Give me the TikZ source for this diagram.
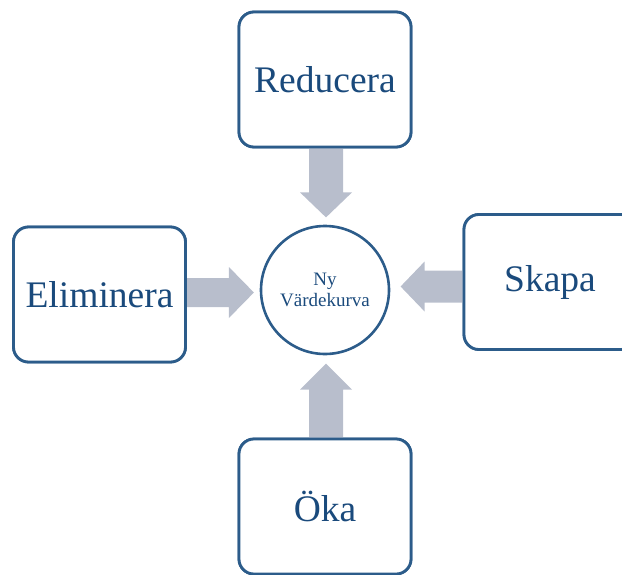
\documentclass[tikz,border=0pt]{standalone}
\usepackage{fontspec}
\setmainfont{Liberation Serif}
\definecolor{ink}{HTML}{1A4A7C}
\definecolor{frame}{HTML}{2C5C8A}
\definecolor{arrowgray}{HTML}{B8BECC}
\begin{document}
\begin{tikzpicture}[x=1pt,y=-1pt,
  actionbox/.style={draw=frame, line width=2.8pt, rounded corners=15pt, fill=white,
    minimum width=172pt, minimum height=135pt, inner sep=0pt,
    text=ink, font=\fontsize{37.5}{40}\selectfont},
  hub/.style={draw=frame, line width=2.6pt, circle, minimum size=128pt, inner sep=0pt,
    text=ink, align=center, font=\fontsize{19}{20.5}\selectfont},
  blockarrow/.style={fill=arrowgray}]
\useasboundingbox (0,0) rectangle (622,574);
\clip (0,0) rectangle (622,574);

% centre circle
\node[hub] (hub) at (325,290) {Ny\\Värdekurva};

% the four action boxes
\node[actionbox] (red) at (325,79.5) {Reducera};
\node[actionbox] (eli) at (99.5,294.5) {Eliminera};
\node[actionbox] (ska) at (550,282) {Skapa};
\node[actionbox] (oka) at (325,506.5) {Öka};

% block arrows pointing to the circle
\fill[blockarrow] (red.south) ++(-16,0) -- ++(0,44) -- ++(-9,0) -- ++(26,25)
  -- ++(26,-25) -- ++(-9,0) -- ++(0,-44) -- cycle;
\fill[blockarrow] (oka.north) ++(-16,0) -- ++(0,-48) -- ++(-9,0) -- ++(26,-26)
  -- ++(26,26) -- ++(-9,0) -- ++(0,48) -- cycle;
\fill[blockarrow] (eli.east) ++(0,-16.5) -- ++(42,0) -- ++(0,-11) -- ++(25,25.5)
  -- ++(-25,25.5) -- ++(0,-11) -- ++(-42,0) -- cycle;
\fill[blockarrow] (ska.west) ++(0,-11.5) -- ++(-38,0) -- ++(0,-9) -- ++(-24,25)
  -- ++(24,25) -- ++(0,-9) -- ++(38,0) -- cycle;

% redraw box borders over the arrow stubs
\foreach \b/\t in {red/Reducera, eli/Eliminera, ska/Skapa, oka/Öka}
  \node[actionbox] at (\b) {\t};
\end{tikzpicture}
\end{document}
